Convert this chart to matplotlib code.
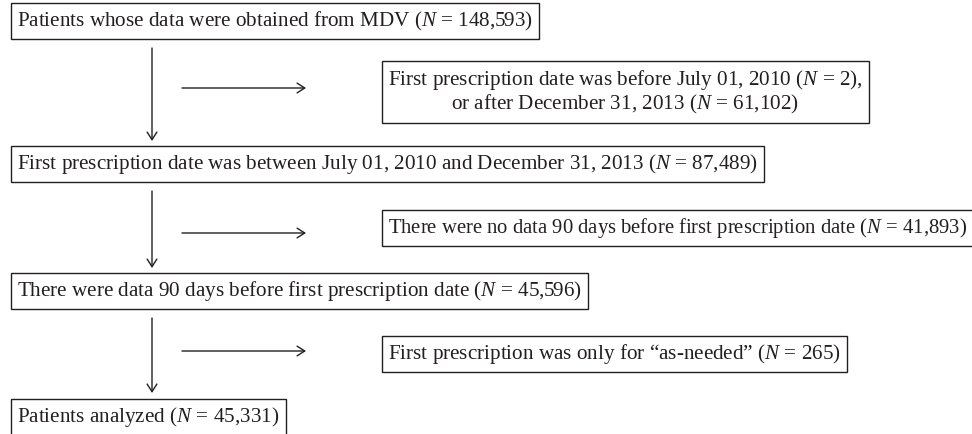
import matplotlib
matplotlib.use('Agg')
import matplotlib.pyplot as plt

# flow of patients, top to bottom
main_labels = ["Patients whose data were obtained from MDV",
               "First prescription date was between July 01, 2010 and December 31, 2013",
               "There were data 90 days before first prescription date",
               "Patients analyzed"]
main_counts = ["148,593", "87,489", "45,596", "45,331"]

# excluded at each step (first step has two groups)
excluded_labels = [["First prescription date was before July 01, 2010", "or after December 31, 2013"],
                   ["There were no data 90 days before first prescription date"],
                   ["First prescription was only for \u201cas-needed\u201d"]]
excluded_counts = [["2", "61,102"], ["41,893"], ["265"]]

plt.rcParams['mathtext.fontset'] = 'custom'
plt.rcParams['mathtext.rm'] = 'Liberation Serif'
plt.rcParams['mathtext.it'] = 'Liberation Serif:italic'

ink = '#231f20'
fs = 15.2

fig = plt.figure(figsize=(9.72, 4.34), dpi=100)
ax = fig.add_axes([0, 0, 1, 1])
ax.set_xlim(0, 972)
ax.set_ylim(434, 0)
ax.axis('off')

box = dict(boxstyle='square,pad=0.3', fc='white', ec=ink, lw=1.0)

# layout (pixels)
main_x = 17
main_y = [21, 164, 291, 417]
excl_x = 388
excl_y = [92, 228, 354]
line_x = 152
line_span = [(48, 141), (191, 268), (318, 393)]
arrow_y = [88, 233, 351]

for lab, n, y in zip(main_labels, main_counts, main_y):
    ax.text(main_x, y, lab + " ($N$ = " + n + ")", fontsize=fs, family='Liberation Serif',
            color=ink, ha='left', va='center', bbox=box, clip_on=False)

renderer = fig.canvas.get_renderer()
for labs, ns, y in zip(excluded_labels, excluded_counts, excl_y):
    lines = [l + " ($N$ = " + n + ")" for l, n in zip(labs, ns)]
    t = ax.text(excl_x, y, ",\n".join(lines), fontsize=fs, family='Liberation Serif', color=ink,
                ha='left', va='center', multialignment='center', linespacing=1.1,
                bbox=box, clip_on=False)
    # the long one runs to the right edge: text must still fit, box may be cut
    right = t.get_window_extent(renderer).x1
    if right > 969:
        t.set_fontsize(fs * (969 - excl_x) / (right - excl_x))

arrow = dict(arrowstyle='->,head_length=0.55,head_width=0.35', lw=1.0, color=ink,
             shrinkA=0, shrinkB=0)
for (y0, y1), ya in zip(line_span, arrow_y):
    ax.annotate('', xy=(line_x, y1), xytext=(line_x, y0), arrowprops=arrow)
    ax.annotate('', xy=(306, ya), xytext=(182, ya), arrowprops=arrow)

fig.savefig('out.png', dpi=100)
